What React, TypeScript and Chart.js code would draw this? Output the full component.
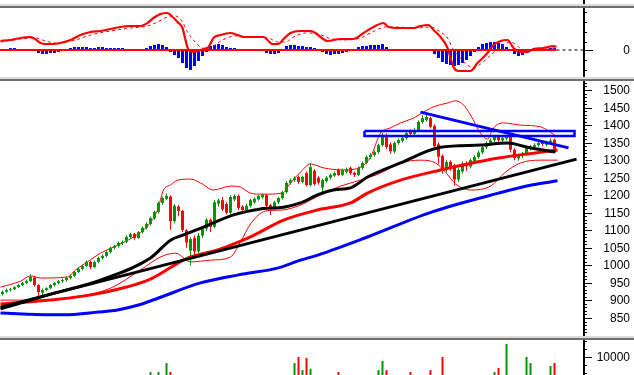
import React, { useEffect, useRef } from 'react';
import { Chart, registerables } from 'chart.js';

Chart.register(...registerables);

// ---------- DATA ----------
// daily candles: [open, high, low, close]
const candles: [number, number, number, number][] = [
  [918, 928, 914, 925], [925, 934, 921, 930], [930, 936, 926, 932], [932, 941, 929, 938], [938, 947, 935, 944],
  [944, 953, 941, 950], [950, 960, 947, 955], [955, 975, 952, 967], [966, 970, 940, 944], [944, 946, 905, 924],
  [922, 934, 915, 930], [930, 938, 926, 935], [935, 947, 932, 944], [944, 953, 940, 950], [950, 958, 946, 955],
  [955, 962, 950, 958], [958, 968, 954, 964], [964, 974, 960, 970], [970, 984, 967, 981], [981, 994, 978, 990],
  [990, 1002, 986, 998], [998, 1014, 995, 1010], [1010, 1013, 990, 995], [995, 1013, 992, 1010], [1010, 1025, 1006, 1021],
  [1021, 1031, 1016, 1027], [1027, 1042, 1023, 1038], [1038, 1053, 1034, 1050], [1050, 1059, 1045, 1055], [1055, 1068, 1051, 1064],
  [1064, 1071, 1058, 1067], [1067, 1085, 1063, 1081], [1081, 1093, 1077, 1089], [1090, 1093, 1073, 1078], [1078, 1098, 1075, 1095],
  [1095, 1111, 1091, 1107], [1107, 1122, 1103, 1118], [1118, 1139, 1114, 1135], [1135, 1156, 1130, 1152], [1152, 1182, 1148, 1178],
  [1178, 1196, 1173, 1192], [1190, 1205, 1186, 1198], [1196, 1200, 1101, 1126], [1126, 1175, 1120, 1170], [1168, 1172, 1140, 1155],
  [1155, 1158, 1095, 1101], [1100, 1104, 1050, 1065], [1042, 1080, 1000, 1075], [1078, 1085, 1030, 1040], [1040, 1092, 1035, 1085],
  [1085, 1112, 1078, 1105], [1105, 1135, 1098, 1130], [1130, 1134, 1095, 1110], [1110, 1186, 1106, 1180], [1176, 1190, 1168, 1185],
  [1186, 1195, 1155, 1160], [1175, 1180, 1145, 1150], [1150, 1200, 1146, 1195], [1188, 1203, 1183, 1198], [1198, 1202, 1158, 1164],
  [1168, 1172, 1150, 1158], [1158, 1176, 1152, 1170], [1170, 1190, 1165, 1186], [1180, 1194, 1176, 1190], [1188, 1202, 1184, 1198],
  [1194, 1206, 1190, 1201], [1200, 1204, 1165, 1170], [1172, 1176, 1144, 1164], [1164, 1184, 1158, 1180], [1180, 1196, 1175, 1192],
  [1192, 1213, 1188, 1209], [1209, 1240, 1205, 1235], [1235, 1248, 1230, 1243], [1243, 1254, 1238, 1249], [1252, 1256, 1232, 1238],
  [1238, 1256, 1234, 1252], [1263, 1267, 1225, 1229], [1229, 1292, 1225, 1280], [1270, 1275, 1228, 1232], [1250, 1254, 1230, 1236],
  [1222, 1247, 1209, 1243], [1240, 1254, 1236, 1250], [1250, 1262, 1245, 1258], [1256, 1268, 1252, 1263], [1272, 1276, 1254, 1258],
  [1258, 1276, 1254, 1272], [1266, 1279, 1262, 1274], [1278, 1282, 1258, 1263], [1264, 1268, 1252, 1258], [1258, 1282, 1254, 1278],
  [1278, 1296, 1273, 1292], [1292, 1313, 1288, 1309], [1309, 1320, 1304, 1315], [1315, 1328, 1310, 1323], [1323, 1347, 1318, 1343],
  [1343, 1378, 1338, 1372], [1372, 1376, 1332, 1337], [1345, 1350, 1318, 1325], [1325, 1353, 1320, 1349], [1349, 1362, 1344, 1357],
  [1355, 1368, 1350, 1363], [1363, 1381, 1358, 1377], [1384, 1388, 1368, 1375], [1375, 1391, 1370, 1386], [1386, 1413, 1382, 1409],
  [1409, 1428, 1404, 1420], [1414, 1432, 1410, 1423], [1420, 1424, 1390, 1395], [1398, 1402, 1335, 1340], [1345, 1350, 1290, 1310],
  [1312, 1316, 1262, 1272], [1272, 1300, 1265, 1295], [1295, 1300, 1270, 1280], [1285, 1290, 1228, 1245], [1245, 1278, 1238, 1272],
  [1268, 1296, 1262, 1290], [1292, 1297, 1270, 1282], [1282, 1305, 1276, 1300], [1298, 1314, 1293, 1309], [1309, 1327, 1304, 1322],
  [1322, 1341, 1317, 1337], [1337, 1354, 1332, 1349], [1347, 1362, 1343, 1357], [1357, 1371, 1352, 1366], [1366, 1370, 1352, 1357],
  [1356, 1368, 1351, 1363], [1362, 1372, 1357, 1367], [1367, 1371, 1322, 1330], [1330, 1334, 1300, 1306], [1305, 1318, 1298, 1312],
  [1312, 1323, 1306, 1318], [1318, 1338, 1313, 1334], [1332, 1343, 1328, 1338], [1338, 1348, 1333, 1343], [1343, 1354, 1338, 1349],
  [1352, 1356, 1340, 1346], [1344, 1355, 1340, 1350], [1350, 1362, 1346, 1356], [1358, 1362, 1325, 1330],
];

const volumes: number[] = [
  3200, 2800, 3000, 3400, 2900, 3100, 3600, 4000, 3800, 4100,
  3300, 2700, 2900, 3100, 2600, 2800, 3000, 3200, 3500, 3300,
  3400, 3700, 3900, 3100, 3000, 2900, 3300, 3600, 3200, 3400,
  3100, 3500, 3800, 3600, 3300, 3700, 4000,
  5300, 4200, 5300, 4100, 8100, 5300, 4300,
  4200, 4000, 3900, 4300, 3800, 3600, 3400, 3500, 3700, 3900, 3300, 3200, 3600, 3400, 3100,
  3000, 3200, 2900, 2800, 3000, 2700, 3300, 3100, 2900, 3200, 3500, 3800, 3900, 4100,
  8100, 10000, 5900, 9700, 6300,
  4200, 3900, 3600, 3400, 3300, 3700,
  5300,
  3600, 3400, 3800, 3500, 3700, 3900, 4100, 4000, 4200,
  5900, 8750, 5900,
  4100, 3800, 3600, 3900,
  4200, 5300,
  3800, 3900, 4100, 4200,
  5900,
  4300, 4200,
  10000,
  4100, 3900, 4200, 3800, 3600, 3500, 3700, 3400, 3600, 3900, 4000, 4200,
  5300, 6600, 4300, 14100,
  4200, 4000, 3700, 3900,
  10000, 8100,
  4200, 3800, 4000, 4100,
  7200, 8100,
];

const macdHist: number[] = [
  1, 1, 2, 2, 1, 1, 1, 1, -1, -3,
  -4, -4, -3, -3, -2, -1, 1, 2, 3, 3,
  3, 3, 2, 2, 3, 3, 2, 2, 2, 2,
  2, 1, 1, 0, 1, 1, 2, 4, 5, 6,
  5, 3, -2, -5, -8, -13, -18, -20, -16, -11,
  -6, -2, 4, 5, 6, 5, 3, 2, 2, 1,
  -1, -1, -1, -1, -1, -1, -3, -4, -4, -3,
  1, 4, 5, 5, 4, 4, 3, 3, 2, 1,
  -2, -4, -5, -4, -4, -3, -2, -1, 1, 3,
  4, 4, 5, 5, 5, 6, 3, -1, -1, -1,
  -1, -1, 1, 1, 1, 1, 1, -1, -4, -8,
  -12, -14, -15, -16, -15, -13, -10, -6, -2, 3,
  6, 7, 8, 8, 7, 6, 3, -1, -4, -6,
  -5, -3, -1, 1, 1, 2, 1, 2, 2,
];

// indicator lines: [bar index, value]
const macdLine: [number, number][] = [
  [-0.5, 9], [2, 10], [4.5, 12], [7, 13], [7.75, 12], [9.5, 7], [10.75, 6], [12.75, 6], [14.5, 7], [17, 10],
  [19.5, 15], [22, 18], [24.5, 19], [27, 21], [29.5, 23], [32, 24], [34.5, 24], [36.25, 27], [37.75, 32], [39.5, 36],
  [41.25, 37], [42, 35], [43.75, 28], [45, 22], [45.75, 10], [46.5, 0], [47.5, -2], [48.75, -1], [50.25, 1], [51.5, 3],
  [52.75, 12], [54.5, 15], [57, 17], [58.75, 15], [60.25, 13], [65.25, 13], [66.25, 10], [67.5, 6], [69, 6], [70.25, 11],
  [72, 17], [74.5, 19], [77, 19], [78.25, 17], [79.5, 13], [81.25, 9], [84.5, 11], [87.75, 11], [90.25, 17], [92.75, 23],
  [95.25, 27], [96.5, 23], [99.5, 22], [102.75, 22], [104.5, 24], [106.5, 25], [107.75, 20], [109.5, 13], [111.25, 2], [112.75, -17],
  [114, -21], [117, -21], [118.75, -13], [121.25, -3], [122.75, 5], [124.5, 9], [126.25, 10], [127.75, 2], [129.5, -2], [131.25, -2],
  [132.75, 1], [135.25, 2], [137.75, 4], [138.5, 3],
];
const signalLine: [number, number][] = [
  [-0.5, 8], [4.5, 11], [8.25, 12], [10.75, 9], [13.25, 7], [15.75, 8], [18.25, 10], [22, 15], [27, 19], [32, 22],
  [36.25, 24], [38.75, 28], [41.25, 33], [43.25, 34], [45, 28], [46.25, 18], [47.75, 10], [49.5, 3], [51.25, 1], [52.75, 4],
  [55, 10], [58.25, 14], [62, 13], [66.5, 12], [68.75, 8], [70.75, 8], [72.75, 13], [75.75, 17], [79, 16], [81.5, 12],
  [85.75, 10], [89.5, 12], [92.5, 18], [95.75, 23], [98.25, 23], [103.25, 22], [107, 23], [109.5, 18], [111.25, 12], [112.75, 0],
  [114.5, -8], [116.25, -15], [117.75, -18], [119.5, -14], [121.25, -8], [124.5, 3], [127, 8], [128.75, 4], [130.25, 0], [132.75, 0],
  [136.25, 2], [138.5, 2],
];
const maBlack: [number, number][] = [
  [-0.5, 876], [12, 918], [24.5, 958], [37, 1021], [42, 1072], [45.25, 1087], [50.25, 1109], [57.75, 1144], [64.5, 1161], [70.25, 1166],
  [74.5, 1178], [78.75, 1201], [82.75, 1215], [87, 1221], [91.25, 1252], [99.5, 1292], [109.5, 1337], [119.5, 1343], [126.25, 1349], [131.25, 1337],
  [138.25, 1323],
];
const maRed: [number, number][] = [
  [-0.5, 890], [12, 901], [24.5, 921], [37, 961], [46.25, 1021], [53.75, 1044], [57.75, 1061], [62, 1081], [70.25, 1129], [78.75, 1158],
  [87, 1178], [91.25, 1206], [99.5, 1243], [109.5, 1272], [116.25, 1289], [124, 1306], [132.75, 1320], [138.75, 1329],
];
const maBlue: [number, number][] = [
  [-0.5, 864], [12, 859], [15.25, 859], [24, 867], [28.75, 873], [34, 887], [39, 907], [49.5, 950], [59, 973], [69, 993],
  [74.5, 1015], [79, 1030], [91.25, 1081], [107.25, 1152], [124, 1206], [132.25, 1229], [138.75, 1241],
];
const bandUpper: [number, number][] = [
  [-0.5, 938], [4.5, 955], [7, 970], [9.5, 964], [16.25, 967], [18.25, 987], [21.25, 1010], [24.5, 1035], [27.75, 1052], [32.75, 1081],
  [36.25, 1112], [38.75, 1158], [40.25, 1215], [42, 1229], [43.75, 1243], [47, 1246], [49.5, 1235], [52.75, 1215], [57, 1226], [59.5, 1223],
  [62, 1206], [65, 1203], [70, 1206], [72, 1235], [74.5, 1266], [77, 1289], [80.25, 1278], [85.25, 1272], [89.5, 1280], [92, 1309],
  [94.5, 1377], [97, 1392], [99.5, 1406], [102.75, 1420], [104.5, 1432], [107.75, 1452], [111.25, 1463], [113.25, 1469], [115, 1460], [117, 1429],
  [119.5, 1377], [121.25, 1360], [122.75, 1392], [125.25, 1406], [129.5, 1400], [134.5, 1395], [138.75, 1366],
];
const bandLower: [number, number][] = [
  [-0.5, 901], [9.5, 901], [19.5, 913], [27, 935], [34.5, 987], [39.5, 1024], [43.25, 1035], [47, 1010], [52, 1015], [57, 1024],
  [59.5, 1067], [62, 1118], [65.75, 1155], [70, 1158], [74.5, 1172], [79.5, 1201], [84.5, 1226], [89.5, 1243], [94.5, 1263], [99.5, 1292],
  [104.5, 1300], [108.25, 1292], [110.75, 1266], [113.25, 1232], [117, 1215], [122, 1226], [125.75, 1266], [129.5, 1292], [134.5, 1300], [138.75, 1300],
];
const trendBlack: [number, number][] = [[-0.5, 881], [143.5, 1303]];
const trendBlue: [number, number][] = [[104.5, 1437], [141.5, 1335]];
const zoneBlue: [number, number][] = [[90.5, 1383], [143, 1383], [143, 1369], [90.5, 1369], [90.5, 1383]];

const priceLabels = [850, 900, 950, 1000, 1050, 1100, 1150, 1200, 1250, 1300, 1350, 1400, 1450, 1500];
const macdLabels = [0];
const macdMinorTicks = [-20, -10, 8, 18, 28, 38];
const volumeLabels = [10000];
const volumeMinorTicks = [5000, 7500, 12500, 15000];

// ---------- STYLE ----------
const X_MIN = -0.625;
const X_MAX = 145.125;
const GREEN = '#009600';
const RED = '#ff0000';
const BLUE = '#0000ff';
const AXIS_W = 51;

const pts = (a: [number, number][]) => a.map(([x, y]) => ({ x, y }));
const isUp = (c: [number, number, number, number]) => c[3] >= c[0];
const candleColors = candles.map((c) => (isUp(c) ? GREEN : RED));

type AxisCfg = { labels: number[]; minor: number[]; majorLen: number; minorLen: number };

function axisPlugin(cfg: AxisCfg) {
  return {
    id: 'rightAxis',
    afterDraw(chart: any) {
      const { ctx, chartArea } = chart;
      const y = chart.scales.y;
      const x0 = chartArea.right;
      ctx.save();
      ctx.fillStyle = '#000';
      ctx.fillRect(x0, 0, 2, chart.height);
      const tick = (v: number, len: number) => {
        const py = Math.round(y.getPixelForValue(v));
        ctx.fillRect(x0, py, len, 1);
      };
      cfg.minor.forEach((v) => tick(v, cfg.minorLen));
      cfg.labels.forEach((v) => tick(v, cfg.majorLen));
      ctx.font = '12px "Liberation Sans", Arial, sans-serif';
      ctx.textAlign = 'right';
      ctx.textBaseline = 'middle';
      cfg.labels.forEach((v) => ctx.fillText(String(v), 630, Math.round(y.getPixelForValue(v)) + 1));
      ctx.restore();
    },
  };
}

function makeChart(canvas: HTMLCanvasElement, datasets: any[], yMin: number, yMax: number, axis: AxisCfg) {
  return new Chart(canvas, {
    type: 'bar',
    data: { datasets },
    options: {
      responsive: false,
      animation: false,
      events: [],
      layout: { padding: { left: 0, right: AXIS_W, top: 0, bottom: 0 } },
      plugins: { legend: { display: false }, tooltip: { enabled: false } },
      scales: {
        x: { type: 'linear', min: X_MIN, max: X_MAX, display: false, offset: false },
        y: { type: 'linear', min: yMin, max: yMax, display: false },
      },
    } as any,
    plugins: [axisPlugin(axis)],
  });
}

const line = (data: [number, number][], color: string, width: number, order: number, extra: any = {}) => ({
  type: 'line',
  data: pts(data),
  borderColor: color,
  borderWidth: width,
  pointRadius: 0,
  fill: false,
  cubicInterpolationMode: 'monotone',
  order,
  ...extra,
});

function buildMacd(canvas: HTMLCanvasElement) {
  const last = candles.length - 0.5;
  return makeChart(
    canvas,
    [
      {
        type: 'bar',
        data: macdHist.map((v, i) => ({ x: i, y: v })),
        backgroundColor: BLUE,
        barThickness: 3,
        grouped: false,
        inflateAmount: 0,
        order: 6,
      },
      line([[X_MIN, 0], [last, 0]], RED, 2, 5, { cubicInterpolationMode: 'default', tension: 0 }),
      line([[last, 0], [X_MAX, 0]], '#000', 1, 5, { cubicInterpolationMode: 'default', tension: 0, borderDash: [3, 3] }),
      line(signalLine, RED, 1, 4, { borderDash: [3, 3] }),
      line(macdLine, RED, 2.2, 3),
    ],
    -27,
    42,
    { labels: macdLabels, minor: macdMinorTicks, majorLen: 10, minorLen: 4 }
  );
}

function buildMain(canvas: HTMLCanvasElement) {
  const minor: number[] = [];
  for (let v = 800; v <= 1520; v += 10) minor.push(v);
  return makeChart(
    canvas,
    [
      line(bandUpper, RED, 1, 20),
      line(bandLower, RED, 1, 20),
      {
        type: 'bar',
        data: candles.map((c, i) => ({ x: i, y: [c[2], c[1]] })),
        backgroundColor: candleColors,
        barThickness: 1,
        grouped: false,
        inflateAmount: 0,
        order: 15,
      },
      {
        type: 'bar',
        data: candles.map((c, i) => ({ x: i, y: [c[0], c[3]] })),
        backgroundColor: candleColors,
        barThickness: 3,
        grouped: false,
        inflateAmount: 0,
        order: 14,
      },
      line(maBlue, BLUE, 3, 10),
      line(maRed, RED, 3, 9),
      line(maBlack, '#000', 3, 8),
      line(trendBlack, '#000', 3, 5, { cubicInterpolationMode: 'default', tension: 0 }),
      line(zoneBlue, BLUE, 2.5, 4, { cubicInterpolationMode: 'default', tension: 0 }),
      line(trendBlue, BLUE, 3, 3, { cubicInterpolationMode: 'default', tension: 0 }),
    ],
    798.7,
    1525.66,
    { labels: priceLabels, minor, majorLen: 9, minorLen: 4 }
  );
}

function buildVolume(canvas: HTMLCanvasElement) {
  return makeChart(
    canvas,
    [
      {
        type: 'bar',
        data: volumes.map((v, i) => ({ x: i, y: v })),
        backgroundColor: candleColors,
        barThickness: 2,
        grouped: false,
        inflateAmount: 0,
        order: 5,
      },
    ],
    4375,
    15312.5,
    { labels: volumeLabels, minor: volumeMinorTicks, majorLen: 9, minorLen: 4 }
  );
}

function Panel({ top, height, build }: { top: number; height: number; build: (c: HTMLCanvasElement) => Chart }) {
  const ref = useRef<HTMLCanvasElement>(null);
  useEffect(() => {
    const chart = build(ref.current as HTMLCanvasElement);
    return () => chart.destroy();
  }, []);
  return (
    <canvas
      ref={ref}
      width={634}
      height={height}
      style={{ position: 'absolute', left: 0, top, width: 634, height, display: 'block' }}
    />
  );
}

function Sep({ top }: { top: number }) {
  return (
    <>
      <div style={{ position: 'absolute', left: 0, top, width: 634, height: 2, background: '#dcdcdc' }} />
      <div style={{ position: 'absolute', left: 0, top: top + 2, width: 634, height: 2, background: '#6e6e6e' }} />
    </>
  );
}

export default function App() {
  return (
    <div style={{ position: 'absolute', left: 0, top: 0, width: 634, height: 375, background: '#fff', overflow: 'hidden' }}>
      <div style={{ position: 'absolute', left: 583, top: 0, width: 2, height: 4, background: '#000' }} />
      <Sep top={4} />
      <Panel top={8} height={69} build={buildMacd} />
      <Sep top={77} />
      <Panel top={81} height={255} build={buildMain} />
      <Sep top={336} />
      <Panel top={340} height={35} build={buildVolume} />
    </div>
  );
}
